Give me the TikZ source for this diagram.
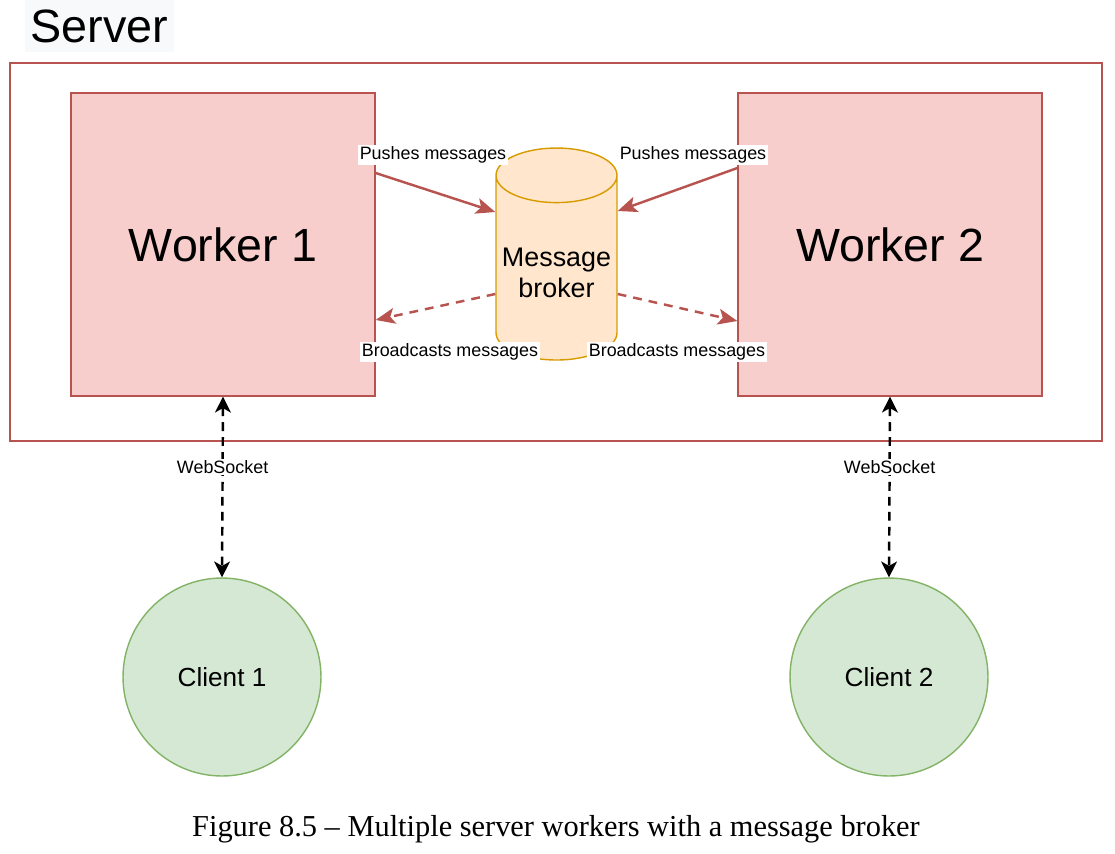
\documentclass[tikz,border=0pt]{standalone}
\usepackage{fontspec}
\setmainfont{Liberation Serif}
\setsansfont{Liberation Sans}
\usetikzlibrary{positioning,shapes.geometric,arrows.meta}
\definecolor{wkfill}{HTML}{F8CECC}
\definecolor{wkline}{HTML}{B85450}
\definecolor{mbfill}{HTML}{FFE6CC}
\definecolor{mbline}{HTML}{D79B00}
\definecolor{clfill}{HTML}{D5E8D4}
\definecolor{clline}{HTML}{82B366}
\definecolor{srvbg}{HTML}{F8F9FA}

\begin{document}
\begin{tikzpicture}[x=0.02cm,y=-0.02cm,
	worker/.style={draw=wkline,fill=wkfill,line width=0.8pt,minimum width=6.08cm,minimum height=6.06cm,font=\sffamily\fontsize{26.5}{30}\selectfont},
	broker/.style={cylinder,shape border rotate=90,aspect=0.5,draw=mbline,fill=mbfill,line width=0.8pt,minimum width=2.42cm,minimum height=4.24cm,align=center,inner sep=0pt,font=\sffamily\fontsize{15.3}{18}\selectfont},
	client/.style={circle,draw=clline,fill=clfill,line width=0.8pt,minimum size=3.96cm,font=\sffamily\fontsize{14.9}{18}\selectfont},
	lbl/.style={fill=white,inner sep=1pt,font=\sffamily\fontsize{10.2}{12}\selectfont},
	push/.style={draw=wkline,line width=1.4pt,-{Stealth[length=11pt,width=9pt,inset=2.5pt]}},
	bcast/.style={push,dash pattern=on 5pt off 4pt},
	ws/.style={line width=1.4pt,dash pattern=on 5pt off 3.5pt,{Stealth[length=9pt,width=9pt,inset=2.5pt]}-{Stealth[length=9pt,width=9pt,inset=2.5pt]}}
]
	\useasboundingbox (0,0) rectangle (1115,853);
	\node[fill=srvbg, minimum width=2.86cm, minimum height=1.04cm, font=\sffamily\fontsize{26.6}{30}\selectfont] (srvl) at (99.5,26) {Server};
	\node[draw=wkline, line width=0.8pt, minimum width=21.84cm, minimum height=7.56cm] (srv) at (556,252) {};
	\node[worker] (w1) at (223,244.5) {Worker 1};
	\node[worker] (w2) at (890,244.5) {Worker 2};
	\node[broker] (mb) at (556.5,268) {\phantom{\begin{tabular}{@{}c@{}}Message\\broker\end{tabular}}};
	\node[align=center, font=\sffamily\fontsize{15.3}{18}\selectfont] (mbt) at (556.5,273) {Message\\broker};
	\node[client] (c1) at (222,677) {Client 1};
	\node[client] (c2) at (889,677) {Client 2};

	\draw[push] ([yshift=1.43cm]w1.east) -- ([yshift=1.12cm]mb.west);
	\draw[push] ([yshift=1.53cm]w2.west) -- ([yshift=1.14cm]mb.east);
	\draw[bcast] ([yshift=-0.52cm]mb.west) -- ([yshift=-1.51cm]w1.east);
	\draw[bcast] ([yshift=-0.52cm]mb.east) -- ([yshift=-1.53cm]w2.west);
	\node[lbl] (pl) at (433,155) {Pushes messages};
	\node[lbl] (pr) at (693,155) {Pushes messages};
	\node[lbl] (bl) at (450,352) {Broadcasts messages};
	\node[lbl] (br) at (677,352) {Broadcasts messages};

	\draw[ws] (w1.south) -- node[lbl,pos=0.39] (wsl1) {WebSocket} (c1.north);
	\draw[ws] (w2.south) -- node[lbl,pos=0.39] (wsl2) {WebSocket} (c2.north);

	\node[font=\fontsize{17.3}{20}\selectfont] (cap) at (556,829) {Figure 8.5 -- Multiple server workers with a message broker};
\end{tikzpicture}
\end{document}
